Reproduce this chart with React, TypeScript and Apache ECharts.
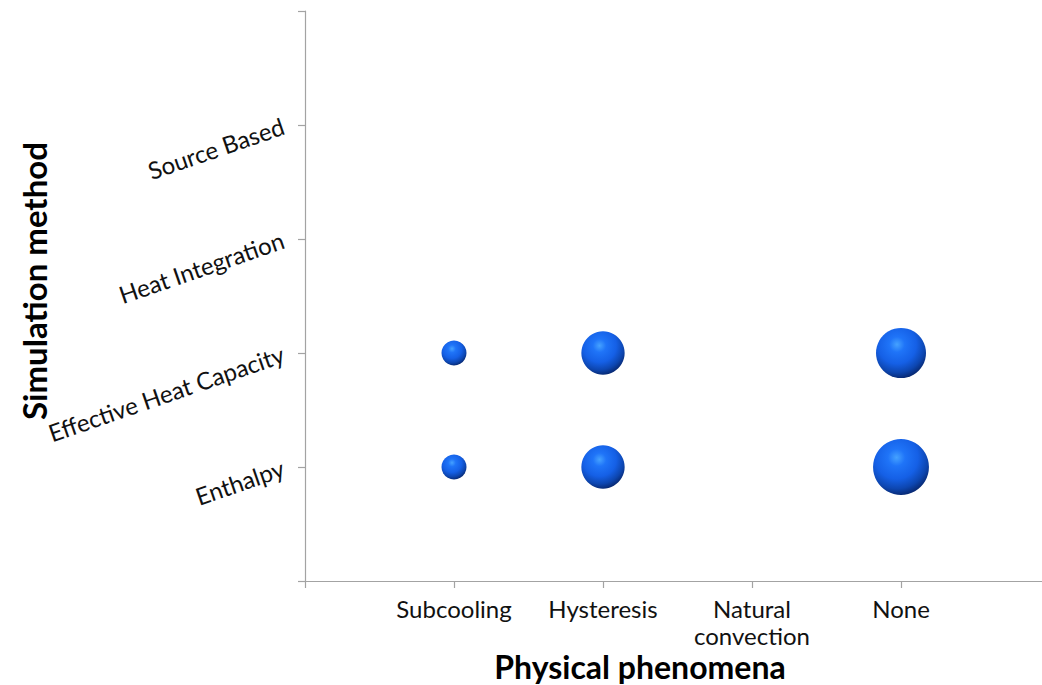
import React, { useEffect, useRef } from "react";
import * as echarts from "echarts";

const xTickLabels = ["", "Subcooling", "Hysteresis", "Natural\nconvection", "None", ""];
const yTickLabels = ["", "Enthalpy", "Effective Heat Capacity", "Heat Integration", "Source Based", ""];

// counts per physical phenomenon (Subcooling, Hysteresis, Natural convection, None)
const enthalpyCounts = [1, 3, 0, 5];
const effectiveHeatCapacityCounts = [1, 3, 0, 4];
const heatIntegrationCounts = [0, 0, 0, 0];
const sourceBasedCounts = [0, 0, 0, 0];

const xAxisTitle = "Physical phenomena";
const yAxisTitle = "Simulation method";

const FONT = "Lato, 'Open Sans', sans-serif";

export default function App() {
  const ref = useRef<HTMLDivElement>(null);
  useEffect(() => {
    if (!ref.current) return;
    const chart = echarts.init(ref.current, null, { renderer: "svg" });
    const rows = [enthalpyCounts, effectiveHeatCapacityCounts, heatIntegrationCounts, sourceBasedCounts];
    const data: number[][] = [];
    rows.forEach((row, ri) => {
      row.forEach((v, ci) => {
        if (v > 0) data.push([ci + 1, ri + 1, v]);
      });
    });
    const axisLine = { show: true, lineStyle: { color: "#a3a3a3", width: 1.2 } };
    chart.setOption({
      animation: false,
      backgroundColor: "#ffffff",
      grid: { left: 305, top: 11, width: 745, height: 570, containLabel: false, outerBoundsMode: "none" },
      xAxis: {
        type: "value",
        min: 0,
        max: 5,
        interval: 1,
        axisLine,
        axisTick: { show: true, length: 7, lineStyle: { color: "#a3a3a3", width: 1.2 } },
        splitLine: { show: false },
        axisLabel: {
          margin: 14,
          fontSize: 24,
          lineHeight: 27,
          color: "#111",
          fontFamily: FONT,
          formatter: (v: number) => xTickLabels[Math.round(v)] ?? "",
        },
      },
      yAxis: {
        type: "value",
        min: 0,
        max: 5,
        interval: 1,
        axisLine,
        axisTick: { show: true, length: 7, lineStyle: { color: "#a3a3a3", width: 1.2 } },
        splitLine: { show: false },
        axisLabel: {
          margin: 22,
          fontSize: 24,
          rotate: 19,
          color: "#111",
          fontFamily: FONT,
          formatter: (v: number) => yTickLabels[Math.round(v)] ?? "",
        },
      },
      series: [
        {
          type: "scatter",
          data,
          symbolSize: (val: number[]) => 25 * Math.sqrt(val[2]),
          itemStyle: {
            opacity: 1,
            color: {
              type: "radial",
              x: 0.42,
              y: 0.33,
              r: 0.7,
              colorStops: [
                { offset: 0, color: "#45a2ff" },
                { offset: 0.22, color: "#1f74f8" },
                { offset: 0.55, color: "#1560e6" },
                { offset: 0.8, color: "#0d46b0" },
                { offset: 1, color: "#07256a" },
              ],
            },
          },
        },
      ],
      graphic: [
        {
          type: "text",
          x: 640,
          y: 666,
          style: {
            text: xAxisTitle,
            fontSize: 32,
            fontWeight: "bold",
            fontFamily: FONT,
            fill: "#000",
            align: "center",
            verticalAlign: "middle",
          },
        },
        {
          type: "text",
          x: 34,
          y: 281,
          rotation: Math.PI / 2,
          style: {
            text: yAxisTitle,
            fontSize: 33,
            fontWeight: "bold",
            fontFamily: FONT,
            fill: "#000",
            align: "center",
            verticalAlign: "middle",
          },
        },
      ],
    });
    return () => chart.dispose();
  }, []);
  return (
    <div
      ref={ref}
      style={{ position: "absolute", left: 0, top: 0, width: 1042, height: 685, overflow: "hidden" }}
    />
  );
}
